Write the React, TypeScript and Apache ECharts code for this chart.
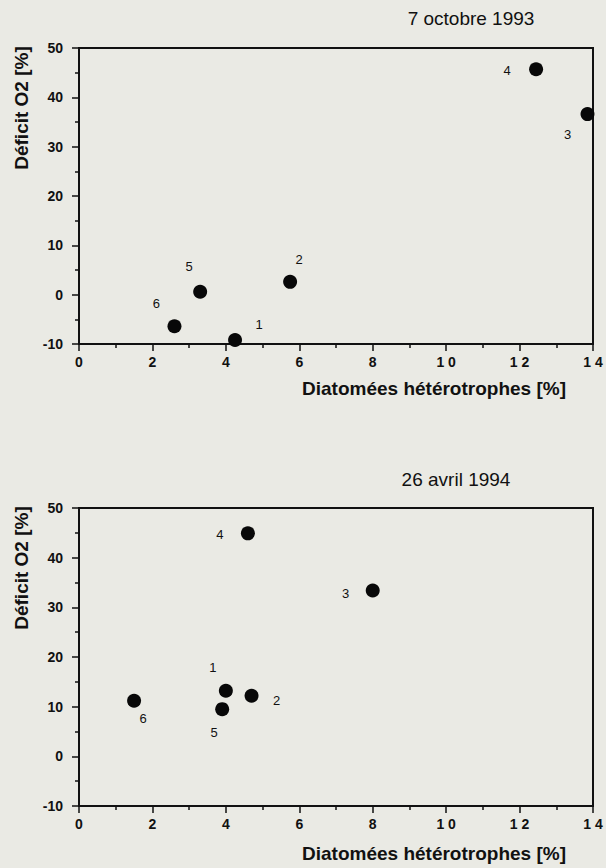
import React, { useEffect, useRef } from 'react';
import * as echarts from 'echarts';

// Station labels
const stations = ['1', '2', '3', '4', '5', '6'];

// 7 octobre 1993
const octX = [4.25, 5.75, 13.85, 12.45, 3.3, 2.6];
const octY = [-9.2, 2.6, 36.6, 45.7, 0.6, -6.4];

// 26 avril 1994
const avrX = [4.0, 4.7, 8.0, 4.6, 3.9, 1.5];
const avrY = [13.2, 12.2, 33.4, 44.9, 9.5, 11.2];

const titles = ['7 octobre 1993', '26 avril 1994'];
const xName = 'Diatomées hétérotrophes [%]';
const yName = 'Déficit O2 [%]';

// label placement (px offsets from the dot)
const octOffsets: [number, number][] = [[24, -16], [9, -22], [-20, 20], [-29, 1], [-11, -25], [-18, -23]];
const avrOffsets: [number, number][] = [[-13, -23], [25, 5], [-27, 3], [-28, 1], [-8, 23], [9, 18]];

const PAPER = '#eaeae4';
const INK = '#111';
const FONT = '"Liberation Sans", Arial, Helvetica, sans-serif';

function makeSeries(xs: number[], ys: number[], offs: [number, number][], idx: number) {
  return {
    type: 'scatter',
    xAxisIndex: idx,
    yAxisIndex: idx,
    symbol: 'circle',
    symbolSize: 14,
    clip: false,
    itemStyle: { color: '#080808', opacity: 1 },
    data: xs.map((x, i) => ({
      value: [x, ys[i]],
      name: stations[i],
      label: {
        show: true,
        position: 'inside',
        offset: offs[i],
        formatter: stations[i],
        color: INK,
        textBorderWidth: 0,
        fontSize: 13,
        fontFamily: FONT,
      },
    })),
  };
}

function xAxis(idx: number) {
  return {
    type: 'value',
    gridIndex: idx,
    min: 0,
    max: 14,
    interval: 2,
    splitLine: { show: false },
    axisLine: { onZero: false, lineStyle: { color: INK, width: 2 } },
    axisTick: { length: 7, lineStyle: { color: INK, width: 1.5 } },
    minorTick: { show: true, splitNumber: 2, length: 4, lineStyle: { color: INK, width: 1.5 } },
    axisLabel: {
      margin: 11,
      color: INK,
      fontSize: 14,
      fontWeight: 'bold',
      fontFamily: FONT,
      formatter: (v: number) => (v >= 10 ? String(v).split('').join(' ') : String(v)),
    },
  };
}

function yAxis(idx: number) {
  return {
    type: 'value',
    gridIndex: idx,
    min: -10,
    max: 50,
    interval: 10,
    splitLine: { show: false },
    axisLine: { onZero: false, lineStyle: { color: INK, width: 2 } },
    axisTick: { length: 7, lineStyle: { color: INK, width: 1.5 } },
    minorTick: { show: true, splitNumber: 2, length: 4, lineStyle: { color: INK, width: 1.5 } },
    axisLabel: {
      margin: 16,
      color: INK,
      fontSize: 14,
      fontWeight: 'bold',
      fontFamily: FONT,
    },
  };
}

export default function App() {
  const ref = useRef<HTMLDivElement>(null);
  useEffect(() => {
    document.body.style.margin = '0';
    document.body.style.background = PAPER;
    const chart = echarts.init(ref.current!, null, { renderer: 'svg' });
    const textStyle = (fontSize: number, bold: boolean) => ({
      fill: INK,
      fontSize,
      fontWeight: bold ? 'bold' : 'normal',
      fontFamily: FONT,
      textAlign: 'center',
      textVerticalAlign: 'middle',
    });
    chart.setOption({
      animation: false,
      backgroundColor: PAPER,
      grid: [
        { left: 79, top: 48, width: 514, height: 296, show: true, borderColor: INK, borderWidth: 2, backgroundColor: 'transparent' },
        { left: 79, top: 508, width: 514, height: 298, show: true, borderColor: INK, borderWidth: 2, backgroundColor: 'transparent' },
      ],
      xAxis: [xAxis(0), xAxis(1)],
      yAxis: [yAxis(0), yAxis(1)],
      series: [makeSeries(octX, octY, octOffsets, 0), makeSeries(avrX, avrY, avrOffsets, 1)],
      graphic: [
        { type: 'text', x: 471, y: 18, style: { text: titles[0], ...textStyle(19, false) } },
        { type: 'text', x: 456, y: 479, style: { text: titles[1], ...textStyle(19, false) } },
        { type: 'text', x: 434, y: 388, style: { text: xName, ...textStyle(19, true) } },
        { type: 'text', x: 434, y: 853, style: { text: xName, ...textStyle(19, true) } },
        { type: 'text', x: 21, y: 108, rotation: Math.PI / 2, style: { text: yName, ...textStyle(19, true) } },
        { type: 'text', x: 21, y: 568, rotation: Math.PI / 2, style: { text: yName, ...textStyle(19, true) } },
      ],
    });
    return () => chart.dispose();
  }, []);
  return <div ref={ref} style={{ position: 'absolute', left: 0, top: 0, width: 606, height: 868 }} />;
}
